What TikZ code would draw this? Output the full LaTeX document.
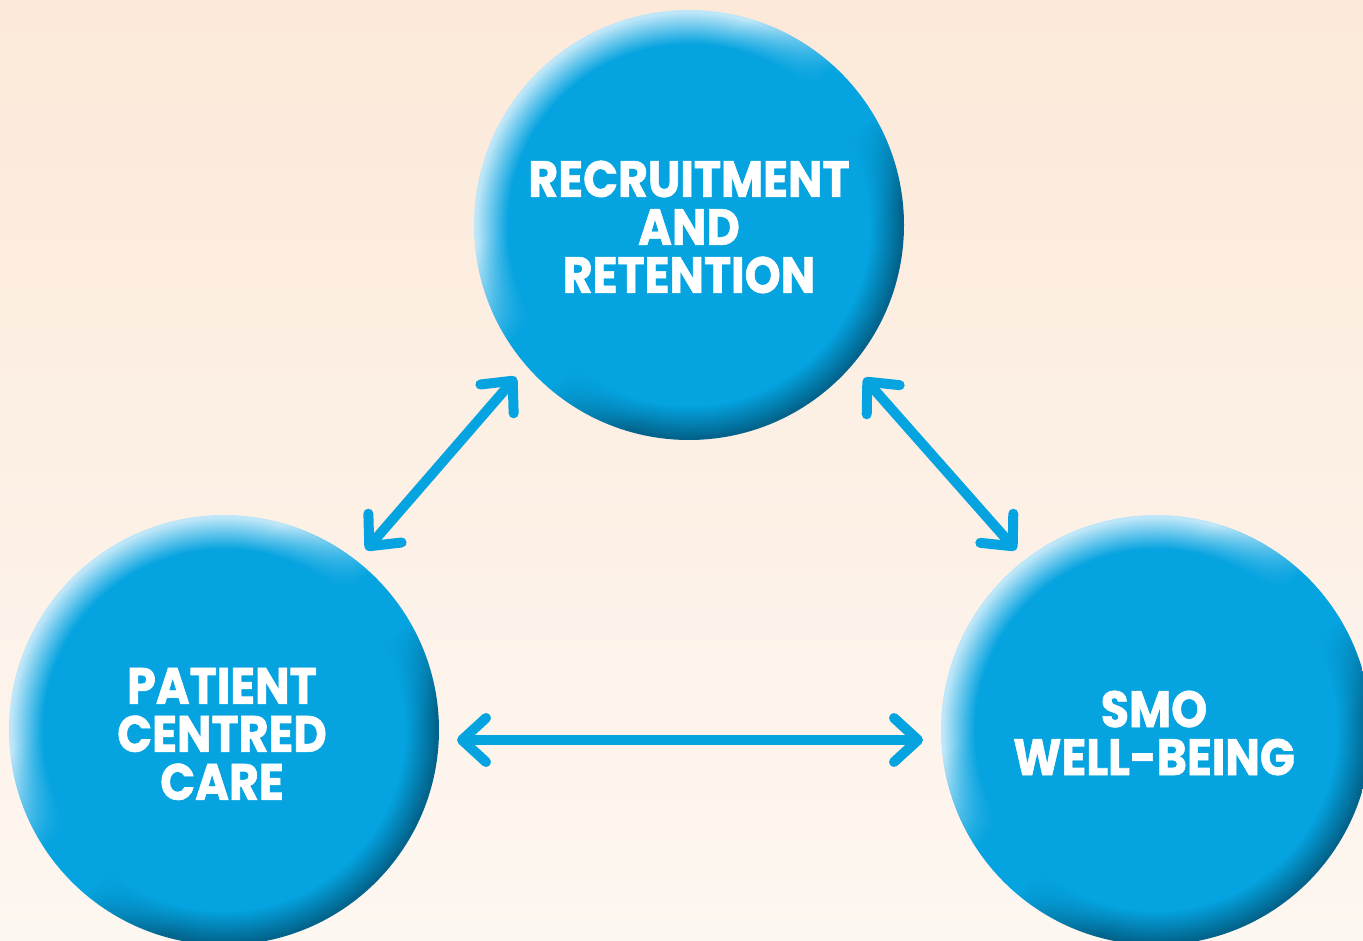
\documentclass[tikz,border=0pt]{standalone}
\usepackage{fontspec}
\newfontfamily\popfont{Poppins}[FakeStretch=0.9, BoldFeatures={FakeBold=1.2}]
\usetikzlibrary{arrows.meta,fadings}
\definecolor{cblue}{HTML}{05A3E0}
\definecolor{clite}{HTML}{BDE6F8}
\definecolor{cdark}{HTML}{02648C}
\definecolor{bgtop}{HTML}{FCE9D9}
\definecolor{bgbot}{HTML}{FDF7F1}
\pgfdeclarehorizontalshading{rim}{100bp}{color(0bp)=(clite); color(36bp)=(clite); color(47bp)=(cblue); color(54bp)=(cblue); color(64bp)=(cdark); color(100bp)=(cdark)}
\tikzset{
  bubble/.style={circle, inner sep=0pt, minimum size=430pt, shade, shading=rim, shading angle=-50},
  bubtext/.style={text=white, align=center, inner sep=0pt, font=\popfont\bfseries\fontsize{51}{48}\selectfont},
  link/.style={draw=cblue, line width=10pt, line cap=round,
    {Straight Barb[length=24pt,width=44pt,round]}-{Straight Barb[length=24pt,width=44pt,round]}}
}
\begin{document}
\begin{tikzpicture}[x=1pt,y=-1pt]
\useasboundingbox (0,0) rectangle (1363,941);
\fill[top color=bgtop,bottom color=bgbot] (0,0) rectangle (1363,941);
\node[bubble] (top) at (689,225) {};
\node[bubble] (left) at (224,730) {};
\node[bubble] (right) at (1156,730) {};
\foreach \c in {top,left,right}{
  \fill[cblue, path fading=circle with fuzzy edge 15 percent] (\c.center) circle[radius=212];
}
\node[bubtext] (toptxt) at (689,227) {RECRUITMENT\\AND\\RETENTION};
\node[bubtext] (lefttxt) at (222,734) {PATIENT\\CENTRED\\CARE};
\node[bubtext] (righttxt) at (1154,733) {SMO\\WELL-BEING};
\coordinate (a1) at (366,550);
\coordinate (a2) at (516,377);
\coordinate (b1) at (864,378);
\coordinate (b2) at (1016,550);
\coordinate (c1) at (457,740);
\coordinate (c2) at (923,740);
\draw[link] (a1) -- (a2);
\draw[link] (b1) -- (b2);
\draw[link] (c1) -- (c2);
\end{tikzpicture}
\end{document}
